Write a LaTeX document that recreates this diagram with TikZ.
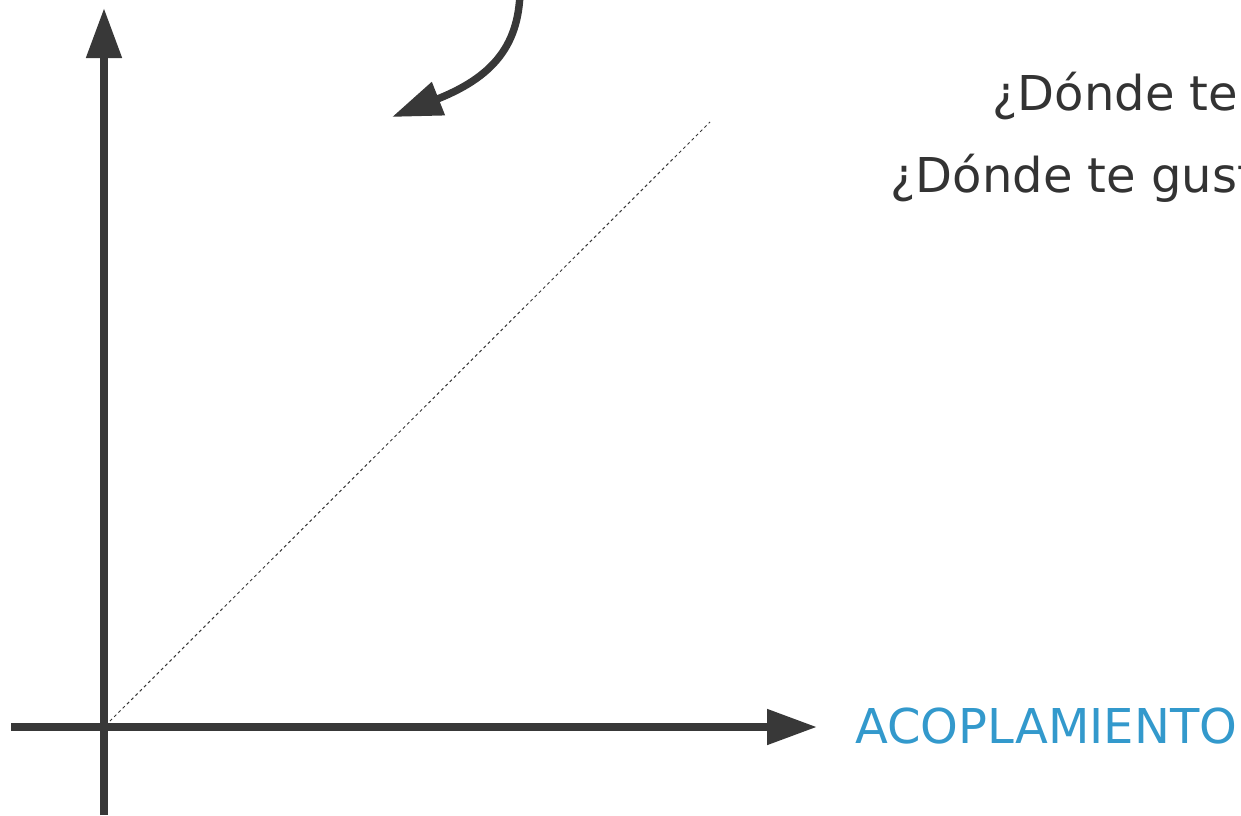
\documentclass[tikz,border=0pt]{standalone}
\usepackage{fontspec}
\setmainfont{DejaVu Sans}
\usetikzlibrary{arrows.meta}
\definecolor{axisgray}{HTML}{383838}
\definecolor{textgray}{HTML}{333333}
\definecolor{labelblue}{HTML}{3399CC}

\begin{document}
\begin{tikzpicture}[x=0.5pt,y=-0.5pt,
    axis/.style={line width=4pt,draw=axisgray,-{Triangle[length=25pt,width=17pt]}},
    bentarrow/.style={line width=3.7pt,draw=axisgray,-{Triangle[length=25pt,width=17pt]}},
    guide/.style={line width=0.5pt,draw=axisgray,dash pattern=on 1.5pt off 1.5pt},
    question/.style={anchor=base west,inner sep=0,text=textgray,font=\fontsize{24}{29}\selectfont},
    axislabel/.style={anchor=base west,inner sep=0,text=labelblue,font=\fontsize{24}{29}\selectfont}]

  \useasboundingbox (0,0) rectangle (1241,815);

  % Axes
  \coordinate (origin) at (104,727);
  \coordinate (ybottom) at (104,815);
  \coordinate (ytip) at (104,8);
  \coordinate (xstart) at (11,727);
  \coordinate (xtip) at (817,727);
  \draw[axis] (ybottom) -- (ytip);
  \draw[axis] (xstart) -- (xtip);
  \node[axislabel] (acoplamiento) at (855,743) {ACOPLAMIENTO};

  % Diagonal guide
  \coordinate (diagstart) at (110,721);
  \coordinate (diagend) at (710,122);
  \draw[guide] (diagstart) -- (diagend);

  % Questions
  \node[question] (q1) at (992,110) {¿Dónde te};
  \node[question] (q2) at (890,192) {¿Dónde te gust};

  % Bent arrow
  \coordinate (bendtop) at (520,-20);
  \coordinate (bendtip) at (392,117);
  \draw[bentarrow] (bendtop) .. controls (522,40) and (498,75) .. (bendtip);

\end{tikzpicture}
\end{document}
